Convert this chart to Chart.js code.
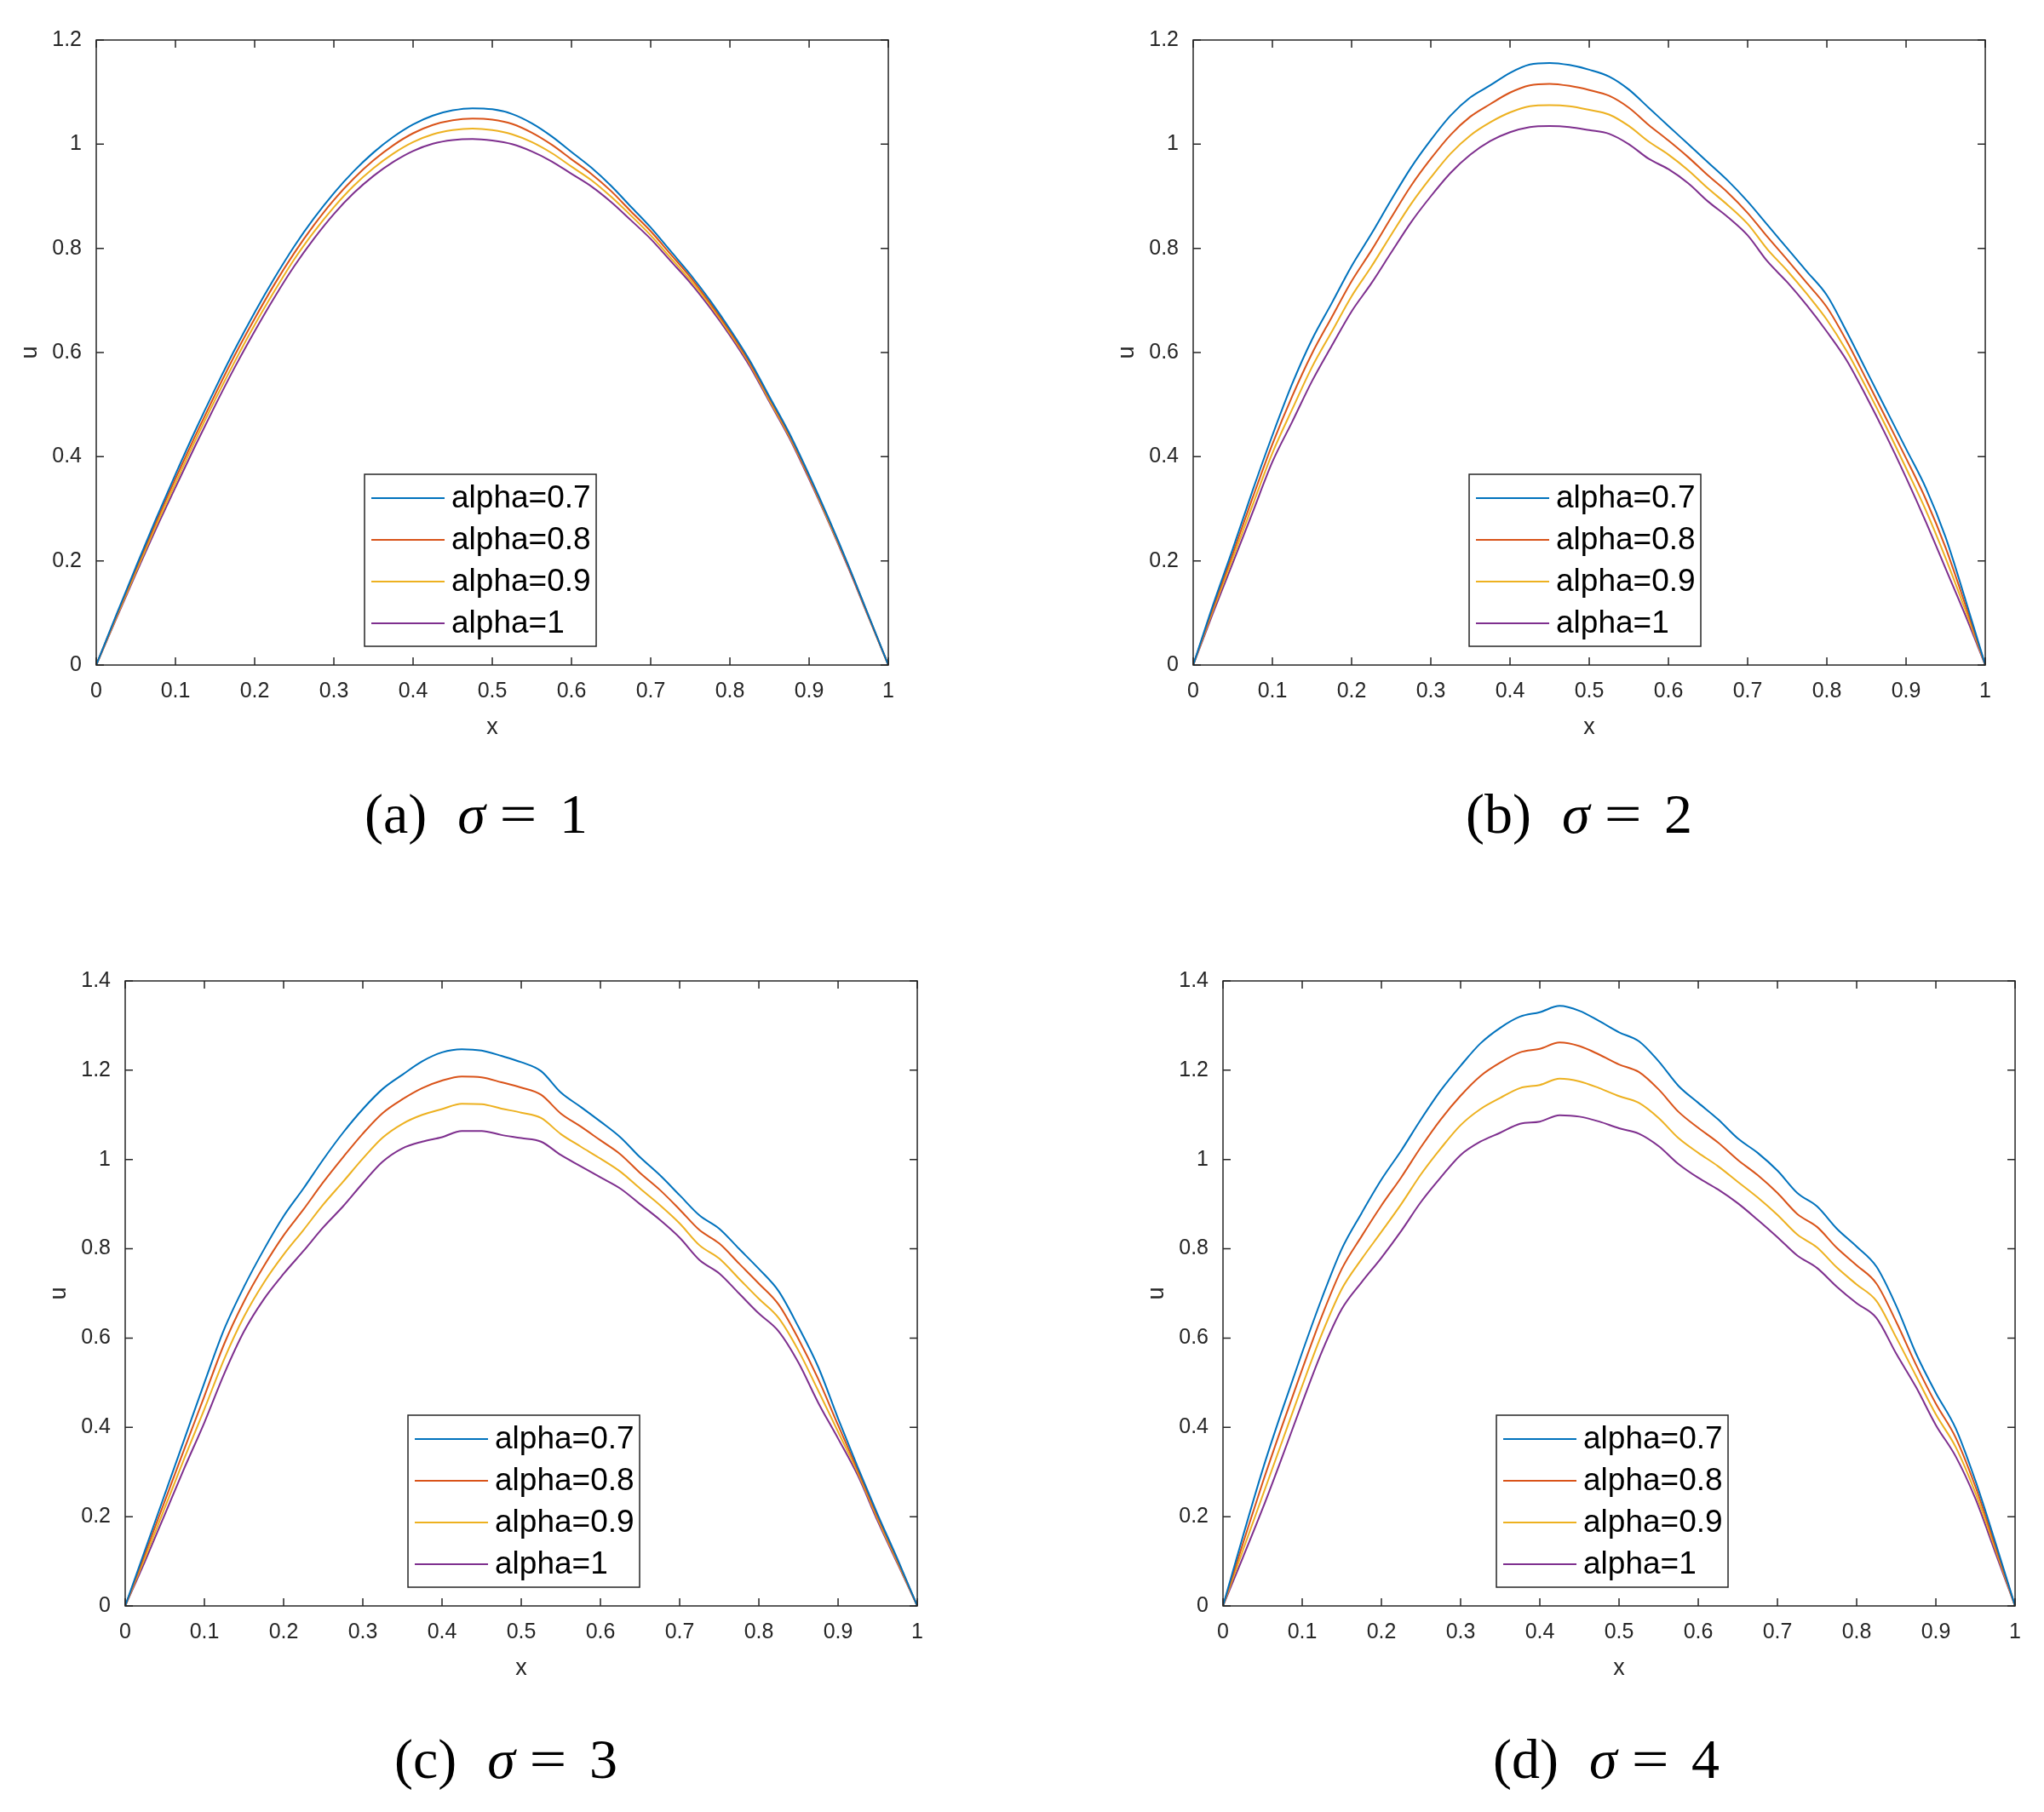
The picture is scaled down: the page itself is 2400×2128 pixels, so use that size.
<!DOCTYPE html>
<html><head><meta charset="utf-8">
<script src="https://cdn.jsdelivr.net/npm/chart.js@4.4.1/dist/chart.umd.min.js"></script>
<style>
html,body{margin:0;padding:0;background:#fff;}
body{width:2400px;height:2128px;position:relative;overflow:hidden;}
.panel{position:absolute;}
.cap{position:absolute;font-family:"Liberation Serif","DejaVu Serif",serif;font-size:66px;color:#000;white-space:nowrap;transform:translateX(-50%);line-height:66px;}
.cap .s{font-style:italic;margin-left:36px;}
.cap .e{display:inline-block;margin-left:20px;transform:scaleX(1.18);}
.cap .n{margin-left:30px;}
</style></head><body>
<script>
// ---------- data ----------
const xGrid = [0,0.025,0.05,0.075,0.1,0.125,0.15,0.175,0.2,0.225,0.25,0.275,0.3,0.325,0.35,0.375,0.4,0.425,0.45,0.475,0.5,0.525,0.55,0.575,0.6,0.625,0.65,0.675,0.7,0.725,0.75,0.775,0.8,0.825,0.85,0.875,0.9,0.925,0.95,0.975,1];
const seriesLabels = ['alpha=0.7','alpha=0.8','alpha=0.9','alpha=1'];
const panelTags = ['(a)','(b)','(c)','(d)'];
const sigmaValues = ['1','2','3','4'];
const xTickLabels = ['0','0.1','0.2','0.3','0.4','0.5','0.6','0.7','0.8','0.9','1'];
const yTickLabels = ['0','0.2','0.4','0.6','0.8','1','1.2','1.4'];
const yMaxValues = [1.2,1.2,1.4,1.4];

const a07 = [0,.095,.188,.279,.366,.45,.53,.606,.677,.743,.804,.858,.906,.948,.984,1.014,1.038,1.055,1.065,1.069,1.067,1.058,1.04,1.015,.985,.955,.92,.88,.84,.795,.75,.70,.645,.585,.515,.445,.365,.28,.19,.095,0];
const a08 = [0,.093,.184,.273,.358,.44,.519,.595,.665,.731,.791,.845,.893,.934,.969,.998,1.021,1.037,1.046,1.049,1.047,1.039,1.022,.999,.971,.943,.910,.871,.833,.789,.745,.695,.641,.581,.512,.442,.362,.278,.188,.094,0];
const a09 = [0,.090,.179,.266,.349,.431,.509,.583,.653,.718,.779,.832,.879,.92,.954,.982,1.004,1.019,1.027,1.03,1.027,1.019,1.004,.983,.957,.931,.899,.863,.825,.782,.739,.691,.637,.578,.508,.439,.360,.275,.187,.093,0];
const a10 = [0,.088,.175,.26,.341,.421,.498,.572,.641,.706,.766,.819,.866,.906,.939,.966,.987,1.001,1.008,1.01,1.007,1.0,.986,.967,.943,.919,.889,.854,.818,.776,.734,.686,.633,.574,.505,.436,.357,.273,.185,.092,0];

const b07 = [0,.115,.223,.335,.441,.54,.625,.695,.766,.828,.893,.955,1.008,1.055,1.09,1.113,1.137,1.153,1.156,1.152,1.143,1.13,1.105,1.07,1.035,1.0,.965,.93,.89,.845,.80,.755,.71,.64,.565,.49,.415,.34,.245,.125,0];
const b08 = [0,.11,.214,.321,.424,.516,.598,.668,.737,.796,.859,.92,.972,1.018,1.053,1.077,1.099,1.113,1.116,1.112,1.104,1.093,1.07,1.037,1.007,.975,.94,.907,.868,.822,.778,.733,.687,.622,.548,.473,.397,.318,.225,.115,0];
const b09 = [0,.105,.205,.307,.407,.491,.572,.64,.708,.765,.826,.885,.936,.982,1.017,1.042,1.061,1.073,1.075,1.073,1.066,1.057,1.035,1.005,.98,.95,.915,.883,.847,.798,.757,.712,.663,.603,.532,.457,.378,.297,.205,.105,0];
const b10 = [0,.10,.196,.293,.39,.467,.545,.613,.679,.733,.792,.85,.90,.945,.98,1.006,1.023,1.033,1.035,1.033,1.027,1.02,1.0,.972,.952,.925,.89,.86,.825,.775,.735,.69,.64,.585,.515,.44,.36,.275,.185,.095,0];

const c07 = [0,.125,.25,.375,.50,.62,.715,.798,.873,.935,1.0,1.06,1.113,1.158,1.19,1.22,1.24,1.247,1.244,1.232,1.218,1.198,1.15,1.118,1.085,1.05,1.005,.965,.92,.875,.845,.80,.755,.705,.625,.535,.42,.31,.205,.105,0];
const c08 = [0,.117,.235,.353,.47,.587,.682,.761,.83,.888,.949,1.005,1.058,1.104,1.135,1.16,1.177,1.186,1.184,1.173,1.161,1.145,1.103,1.074,1.043,1.012,.97,.932,.888,.842,.812,.767,.722,.675,.598,.508,.405,.304,.20,.102,0];
const c09 = [0,.108,.22,.332,.441,.553,.648,.724,.787,.842,.899,.95,1.002,1.049,1.08,1.10,1.113,1.125,1.124,1.114,1.105,1.093,1.057,1.029,1.002,.973,.935,.898,.857,.808,.778,.733,.688,.645,.572,.482,.39,.298,.195,.098,0];
const c10 = [0,.10,.205,.31,.411,.52,.615,.687,.744,.795,.848,.895,.947,.995,1.025,1.04,1.05,1.064,1.064,1.055,1.048,1.04,1.01,.985,.96,.935,.90,.865,.825,.775,.745,.70,.655,.615,.545,.455,.375,.292,.19,.095,0];

const d07 = [0,.155,.305,.44,.568,.69,.80,.88,.955,1.02,1.09,1.155,1.21,1.26,1.295,1.32,1.33,1.344,1.333,1.31,1.285,1.265,1.22,1.165,1.127,1.09,1.047,1.015,.975,.925,.895,.845,.805,.76,.672,.565,.477,.398,.28,.143,0];
const d08 = [0,.139,.276,.405,.53,.65,.755,.828,.897,.96,1.028,1.09,1.143,1.187,1.217,1.24,1.248,1.262,1.254,1.235,1.213,1.196,1.157,1.107,1.071,1.038,.999,.965,.925,.878,.849,.802,.763,.722,.636,.54,.453,.377,.267,.135,0];
const d09 = [0,.124,.247,.37,.493,.61,.71,.777,.838,.90,.967,1.025,1.077,1.113,1.138,1.16,1.167,1.181,1.175,1.16,1.142,1.127,1.093,1.048,1.015,.985,.95,.915,.876,.832,.803,.758,.72,.683,.601,.515,.429,.356,.253,.128,0];
const d10 = [0,.108,.218,.335,.455,.57,.665,.725,.78,.84,.905,.96,1.01,1.04,1.06,1.08,1.085,1.099,1.096,1.085,1.07,1.058,1.03,.99,.959,.933,.902,.865,.826,.785,.757,.715,.678,.645,.565,.49,.405,.335,.24,.12,0];

const panelSeries = [[a07,a08,a09,a10],[b07,b08,b09,b10],[c07,c08,c09,c10],[d07,d08,d09,d10]];

// ---------- styles / layout ----------
const seriesColors = ['#0072BD','#D95319','#EDB120','#7E2F8E'];
const panelBoxes = [
  {left:113, top:40, legendDx:-14, capX:559, capY:923},
  {left:1401, top:40, legendDx:-5, capX:1854, capY:923},
  {left:147, top:1145, legendDx:3, capX:594, capY:2033},
  {left:1436, top:1145, legendDx:-8, capX:1886, capY:2033}
];
const PW = 933, PH = 741;
const PADL = 110, PADR = 20, PADT = 25, PADB = 100;
const INK = '#262626';

Chart.defaults.font.family = '"Liberation Sans", Arial, sans-serif';
Chart.defaults.color = INK;

const boxPlugin = {
  id: 'matlabBox',
  afterDatasetsDraw(chart) {
    const {ctx, chartArea: a, scales} = chart;
    ctx.save();
    ctx.strokeStyle = INK; ctx.lineWidth = 1.5;
    ctx.strokeRect(a.left, a.top, a.right - a.left, a.bottom - a.top);
    const tl = 9;
    ctx.beginPath();
    scales.x.ticks.forEach(t => {
      const px = scales.x.getPixelForValue(t.value);
      ctx.moveTo(px, a.bottom); ctx.lineTo(px, a.bottom - tl);
      ctx.moveTo(px, a.top); ctx.lineTo(px, a.top + tl);
    });
    scales.y.ticks.forEach(t => {
      const py = scales.y.getPixelForValue(t.value);
      ctx.moveTo(a.left, py); ctx.lineTo(a.left + tl, py);
      ctx.moveTo(a.right, py); ctx.lineTo(a.right - tl, py);
    });
    ctx.stroke();
    ctx.restore();
  }
};

const innerLegend = {
  id: 'innerLegend',
  afterDraw(chart, args, opts) {
    const {ctx, chartArea: a} = chart;
    const w = 272, h = 202;
    const cx = (a.left + a.right) / 2 + (opts.dx || 0);
    const left = cx - w / 2, top = a.bottom - 22 - h;
    ctx.save();
    ctx.fillStyle = '#fff';
    ctx.fillRect(left, top, w, h);
    ctx.strokeStyle = INK; ctx.lineWidth = 1.5;
    ctx.strokeRect(left, top, w, h);
    ctx.font = '37px "Liberation Sans", Arial, sans-serif';
    ctx.textBaseline = 'middle';
    ctx.textAlign = 'left';
    chart.data.datasets.forEach((ds, i) => {
      const y = top + 28 + 49 * i;
      ctx.strokeStyle = ds.borderColor; ctx.lineWidth = 2;
      ctx.beginPath(); ctx.moveTo(left + 8, y); ctx.lineTo(left + 94, y); ctx.stroke();
      ctx.fillStyle = '#000';
      ctx.fillText(ds.label, left + 102, y + 1);
    });
    ctx.restore();
  }
};

panelBoxes.forEach((p, k) => {
  const div = document.createElement('div');
  div.className = 'panel';
  div.style.left = (p.left - PADL) + 'px';
  div.style.top = (p.top - PADT) + 'px';
  div.style.width = (PW + PADL + PADR) + 'px';
  div.style.height = (PH + PADT + PADB) + 'px';
  const cv = document.createElement('canvas');
  div.appendChild(cv);
  document.body.appendChild(div);

  const datasets = panelSeries[k].map((vals, i) => ({
    label: seriesLabels[i],
    data: xGrid.map((x, j) => ({x: x, y: vals[j]})),
    borderColor: seriesColors[i],
    backgroundColor: seriesColors[i],
    borderWidth: 2,
    pointRadius: 0,
    fill: false,
    cubicInterpolationMode: 'monotone'
  }));

  new Chart(cv, {
    type: 'line',
    data: {datasets},
    options: {
      responsive: true, maintainAspectRatio: false, animation: false,
      layout: {padding: {left: 0, top: PADT, right: PADR, bottom: 0}},
      scales: {
        x: {
          type: 'linear', min: 0, max: 1,
          afterFit(s) { s.height = PADB; },
          grid: {display: false, drawTicks: false},
          border: {display: false},
          ticks: {stepSize: 0.1, padding: 16, color: INK, font: {size: 25},
                  callback: v => xTickLabels[Math.round(v * 10)], maxRotation: 0, autoSkip: false},
          title: {display: true, text: 'x', color: INK, font: {size: 27}, padding: {top: 0, bottom: 10}}
        },
        y: {
          type: 'linear', min: 0, max: yMaxValues[k],
          afterFit(s) { s.width = PADL; },
          grid: {display: false, drawTicks: false},
          border: {display: false},
          ticks: {stepSize: 0.2, padding: 17, color: INK, font: {size: 25},
                  callback: v => yTickLabels[Math.round(v * 5)], autoSkip: false},
          title: {display: true, text: 'u', color: INK, font: {size: 27}, padding: {top: 16, bottom: 0}}
        }
      },
      plugins: {
        legend: {display: false},
        tooltip: {enabled: false},
        innerLegend: {dx: p.legendDx}
      }
    },
    plugins: [boxPlugin, innerLegend]
  });

  const cap = document.createElement('div');
  cap.className = 'cap';
  cap.style.left = p.capX + 'px';
  cap.style.top = p.capY + 'px';
  cap.innerHTML = panelTags[k] + '<span class="s">σ</span><span class="e">=</span><span class="n">' + sigmaValues[k] + '</span>';
  document.body.appendChild(cap);
});
</script>
</body></html>
